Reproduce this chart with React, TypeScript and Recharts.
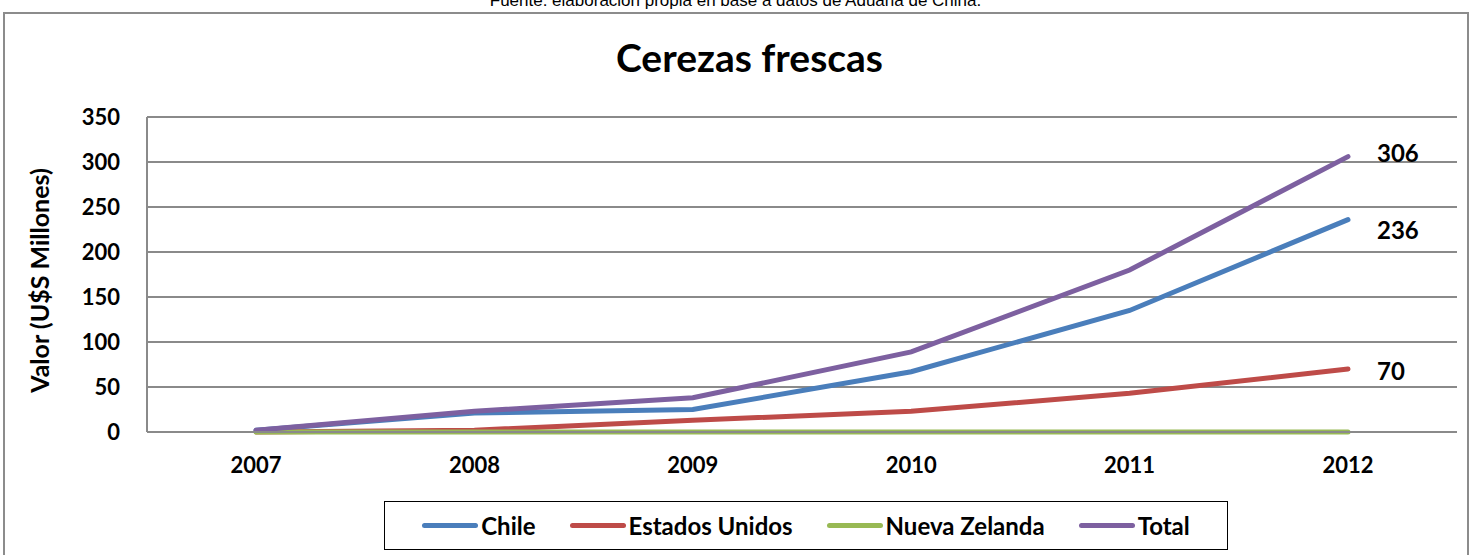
import { LineChart, Line, XAxis, YAxis, CartesianGrid, LabelList } from "recharts";

const years = ["2007", "2008", "2009", "2010", "2011", "2012"];
const chile = [2, 21, 25, 67, 135, 236];
const estadosUnidos = [0, 2, 13, 23, 43, 70];
const nuevaZelanda = [0, 0, 0, 0, 0, 0];
const total = [2, 23, 38, 89, 180, 306];
const yTicks = [0, 50, 100, 150, 200, 250, 300, 350];

const series = [
  { key: "chile", name: "Chile", color: "#4A7EBB", values: chile, labelDy: 10 },
  { key: "eeuu", name: "Estados Unidos", color: "#BE4B48", values: estadosUnidos, labelDy: 1 },
  { key: "nz", name: "Nueva Zelanda", color: "#98B954", values: nuevaZelanda, labelDy: 0 },
  { key: "total", name: "Total", color: "#7D60A0", values: total, labelDy: -4 },
];

const data = years.map((year, i) => {
  const row: Record<string, string | number> = { year };
  series.forEach((s) => (row[s.key] = s.values[i]));
  return row;
});

const FONT = "Lato, 'Open Sans', sans-serif";

function EndLabel(props: any) {
  const { x, y, value, index, labelDy } = props;
  if (index !== years.length - 1 || !value) return null;
  return (
    <text
      x={x + 29}
      y={y + labelDy}
      fontFamily={FONT}
      fontWeight={700}
      fontSize={24}
      fill="#000"
      dominantBaseline="central">
      {value}
    </text>
  );
}

export default function App() {
  return (
    <div style={{ position: "absolute", left: 0, top: 0, width: 1471, height: 555, overflow: "hidden", background: "#fff", fontFamily: FONT }}>
      <div
        style={{
          position: "absolute",
          left: 0,
          width: 1471,
          top: -9,
          textAlign: "center",
          fontFamily: "'Liberation Sans Narrow', 'Liberation Sans', sans-serif",
          fontSize: 17,
          lineHeight: "20px",
          color: "#000",
        }}>
        Fuente: elaboración propia en base a datos de Aduana de China.
      </div>
      <div
        style={{
          position: "absolute",
          left: 3,
          top: 12,
          width: 1466,
          height: 560,
          border: "2px solid #8c8c8c",
          boxSizing: "border-box",
        }}
      />
      <div
        style={{
          position: "absolute",
          left: 0,
          width: 1499,
          top: 34,
          textAlign: "center",
          fontSize: 39,
          fontWeight: 700,
          color: "#000",
        }}>
        Cerezas frescas
      </div>
      <div style={{ position: "absolute", left: 0, top: 0 }}>
        <LineChart
          width={1471}
          height={555}
          data={data}
          margin={{ top: 117, right: 14, bottom: 75, left: 0 }}>
          <CartesianGrid vertical={false} stroke="#8a8a8a" strokeWidth={2} />
          <XAxis
            dataKey="year"
            stroke="#8a8a8a"
            strokeWidth={2}
            tickLine={false}
            tickMargin={19}
            height={48}
            padding={{ left: 109, right: 109 }}
            tick={{ fill: "#000", fontSize: 22, fontWeight: 700, fontFamily: FONT }}
          />
          <YAxis
            domain={[0, 350]}
            ticks={yTicks}
            width={147}
            stroke="#8a8a8a"
            strokeWidth={2}
            tickLine={false}
            tickMargin={21}
            tick={{ fill: "#000", fontSize: 22, fontWeight: 700, fontFamily: FONT }}
            label={{
              value: "Valor (U$S Millones)",
              angle: -90,
              position: "center",
              dx: -33,
              dy: 6,
              style: { fill: "#000", fontSize: 25, fontWeight: 700, fontFamily: FONT },
            }}
          />
          {series.map((s) => (
            <Line
              key={s.key}
              dataKey={s.key}
              name={s.name}
              stroke={s.color}
              strokeWidth={5}
              dot={false}
              strokeLinecap="round"
              isAnimationActive={false}>
              <LabelList dataKey={s.key} content={<EndLabel labelDy={s.labelDy} />} />
            </Line>
          ))}
        </LineChart>
      </div>
      <div
        style={{
          position: "absolute",
          left: 384,
          top: 501,
          width: 844,
          height: 49,
          border: "1.5px solid #000",
          boxSizing: "border-box",
          display: "flex",
          alignItems: "center",
          justifyContent: "center",
          gap: 34,
        }}>
        {series.map((s) => (
          <div key={s.key} style={{ display: "flex", alignItems: "center" }}>
            <div style={{ width: 56, height: 5, borderRadius: 3, background: s.color, marginRight: 3 }} />
            <span style={{ fontSize: 24, fontWeight: 700, color: "#000" }}>{s.name}</span>
          </div>
        ))}
      </div>
    </div>
  );
}
